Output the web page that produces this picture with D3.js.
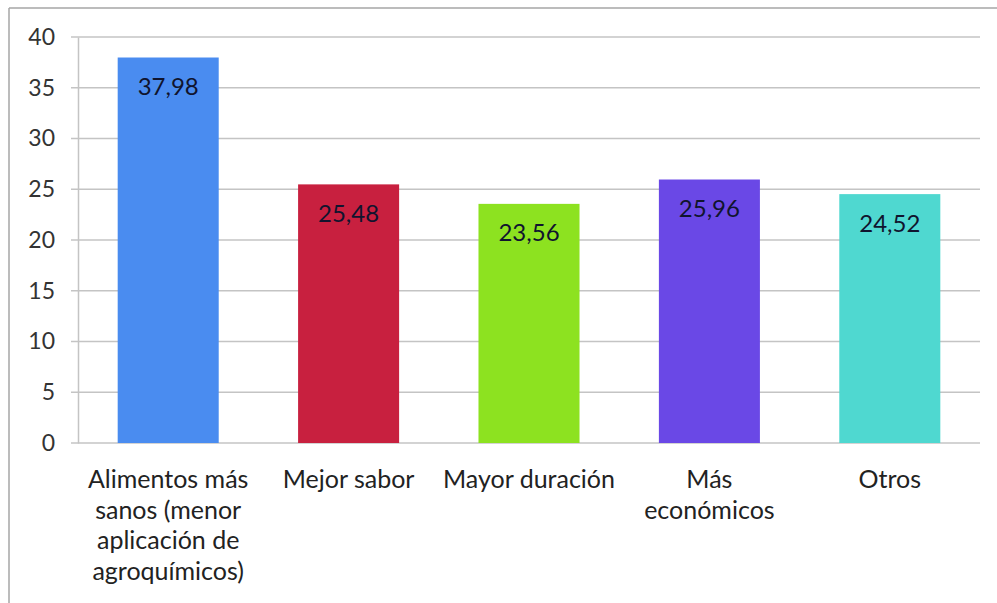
<!DOCTYPE html>
<html>
<head>
<meta charset="utf-8">
<script src="https://cdn.jsdelivr.net/npm/d3@7"></script>
<style>
  body { margin: 0; background: #fff; }
  text { font-family: Lato, "Open Sans", sans-serif; }
</style>
</head>
<body>
<svg id="chart"></svg>
<script>
// data
var categories = ["Alimentos más\nsanos (menor\naplicación de\nagroquímicos)", "Mejor sabor", "Mayor duración", "Más\neconómicos", "Otros"];
var values = [37.98, 25.48, 23.56, 25.96, 24.52];
var barColors = ["#4a8cf0", "#c8203f", "#8de220", "#6a48e6", "#4fd8d0"];
var yTicks = [0, 5, 10, 15, 20, 25, 30, 35, 40];

var W = 997, H = 603;
var margin = {top: 37, right: 17, bottom: 160, left: 78},
    width = W - margin.left - margin.right,
    height = H - margin.top - margin.bottom;

var root = d3.select("#chart")
  .attr("width", W)
  .attr("height", H);

// outer frame (top and left edges visible)
root.append("line").attr("x1", 9).attr("y1", 8).attr("x2", W).attr("y2", 8)
  .attr("stroke", "#a6a6a6").attr("stroke-width", 1.5);
root.append("line").attr("x1", 9).attr("y1", 8).attr("x2", 9).attr("y2", H)
  .attr("stroke", "#a6a6a6").attr("stroke-width", 1.5);

var svg = root.append("g")
  .attr("transform", `translate(${margin.left}, ${margin.top})`);

var x = d3.scaleBand()
  .domain(categories)
  .range([0, width])
  .paddingInner(0.44)
  .paddingOuter(0.22);

var y = d3.scaleLinear()
  .domain([0, 40])
  .range([height, 0]);

// gridlines
svg.append("g")
  .selectAll("line")
  .data(yTicks)
  .join("line")
  .attr("x1", -7)
  .attr("x2", width)
  .attr("y1", d => y(d))
  .attr("y2", d => y(d))
  .attr("stroke", "#c4c4c4")
  .attr("stroke-width", 1.5);

// y axis
var yAxis = svg.append("g")
  .call(d3.axisLeft(y).tickValues(yTicks).tickSize(0).tickPadding(23));
yAxis.select(".domain").attr("stroke", "#c4c4c4").attr("stroke-width", 1.5);
yAxis.selectAll("text")
  .style("font-size", "23px")
  .attr("fill", "#333");

// bars
svg.selectAll("rect.bar")
  .data(values)
  .join("rect")
  .attr("class", "bar")
  .attr("x", (d, i) => x(categories[i]))
  .attr("width", x.bandwidth())
  .attr("y", d => y(d))
  .attr("height", d => height - y(d))
  .attr("fill", (d, i) => barColors[i]);

// value labels inside the bars
svg.selectAll("text.val")
  .data(values)
  .join("text")
  .attr("class", "val")
  .attr("x", (d, i) => x(categories[i]) + x.bandwidth() / 2)
  .attr("y", d => y(d) + 29)
  .attr("dy", "0.35em")
  .attr("text-anchor", "middle")
  .style("font-size", "24px")
  .attr("fill", "#10142e")
  .text(d => d.toFixed(2).replace(".", ","));

// category labels
var cat = svg.append("g")
  .attr("transform", `translate(0, ${height})`)
  .selectAll("text")
  .data(categories)
  .join("text")
  .attr("x", d => x(d) + x.bandwidth() / 2)
  .attr("y", 45)
  .attr("text-anchor", "middle")
  .style("font-size", "25px")
  .attr("fill", "#222");

cat.each(function(d) {
  var t = d3.select(this);
  d.split("\n").forEach((line, j) => {
    t.append("tspan")
      .attr("x", x(d) + x.bandwidth() / 2)
      .attr("dy", j == 0 ? 0 : 30.5)
      .text(line);
  });
});
</script>
</body>
</html>
